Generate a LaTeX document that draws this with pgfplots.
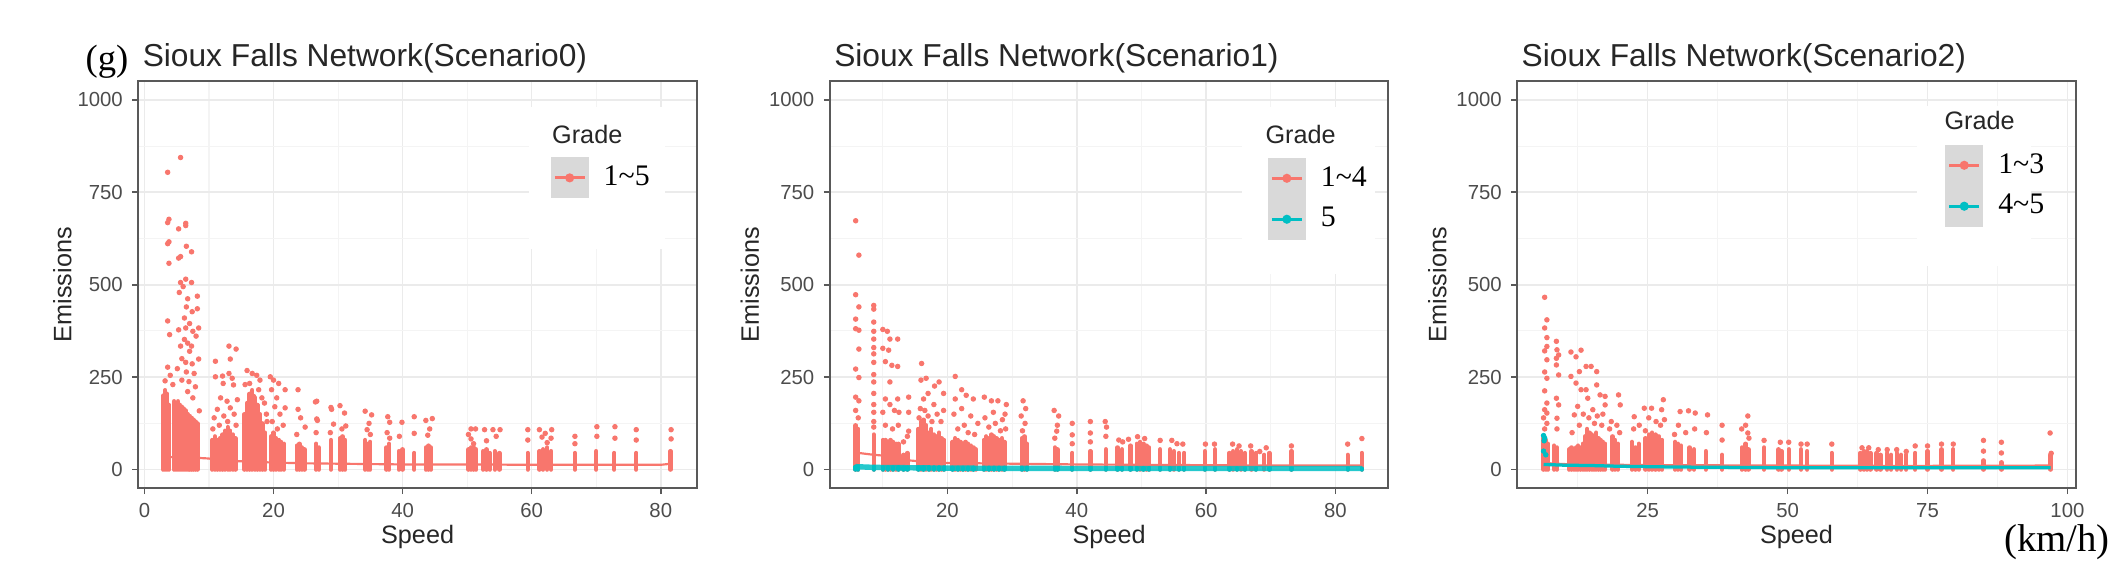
\documentclass[border=0pt]{standalone}
\usepackage{fontspec}
\setmainfont{Liberation Sans}
\newfontfamily\lserif{Liberation Serif}
\usepackage{pgfplots}
\pgfplotsset{compat=1.18}

\definecolor{salmon}{HTML}{F8766D}
\definecolor{ggcyan}{HTML}{00BFC4}
\definecolor{gridmaj}{RGB}{235,235,235}
\definecolor{gridmin}{RGB}{244,244,244}
\definecolor{keygray}{RGB}{217,217,217}

\tikzset{gradefont/.style={font=\fontsize{9.3}{10}\selectfont, text=black!85, inner sep=0pt}}

\pgfplotsset{
  panel/.style={
    scale only axis, width=206pt, height=150pt, anchor=south west,
    ymin=-50, ymax=1050, ytick={0,250,500,750,1000}, minor ytick={125,375,625,875},
    grid=both, major grid style={line width=0.6pt, draw=gridmaj},
    minor grid style={line width=0.4pt, draw=gridmin},
    axis line style={line width=0.8pt, draw=black!65},
    tick pos=left, tick align=outside, major tick length=2.2pt, minor tick length=0pt,
    tick style={line width=0.6pt, draw=black!65},
    ticklabel style={font=\fontsize{7.5}{8}\selectfont, text=black!70},
    /pgf/number format/assume math mode=true, /pgf/number format/1000 sep={},
    xlabel={Speed}, ylabel={Emissions},
    label style={font=\fontsize{9.3}{10}\selectfont, text=black!85},
    xlabel style={at={(axis description cs:0.5,-0.12)}, anchor=center},
    ylabel style={at={(axis description cs:-0.143,0.5)}, anchor=center},
    title style={at={(axis description cs:0.007,1.037)}, anchor=base west, yshift=-6pt,
      inner sep=0pt, font=\fontsize{11.7}{12}\selectfont, text=black!85},
    legend style={anchor=north west, draw=none, fill=none, inner sep=0pt, outer sep=0pt,
      row sep=0pt, font=\lserif\fontsize{11}{11}\selectfont,
      /tikz/every odd column/.append style={column sep=3.5pt}},
    legend cell align=left,
    legend image code/.code={
      \fill[keygray] (-0.5pt,-7pt) rectangle (12.5pt,7pt);
      \draw[mark repeat=2,mark phase=2,##1] plot coordinates {(0.5pt,0pt) (6pt,0pt) (11.5pt,0pt)};
    },
  },
  dots/.style={only marks, mark=*, color=#1, mark size=0.8pt, mark options={draw=none, fill=#1}, forget plot},
  comb/.style={ycomb, draw=#1, line width=1.6pt, line cap=round, no marks, forget plot},
  meanline/.style={draw=#1, line width=0.8pt, no marks, forget plot},
  keyred/.style={draw=salmon, line width=1.1pt, mark=*, mark size=1.1pt, mark options={fill=salmon, draw=none}},
  keycyan/.style={draw=ggcyan, line width=1.1pt, mark=*, mark size=1.1pt, mark options={fill=ggcyan, draw=none}},
}

\begin{document}
\begin{tikzpicture}
\path[use as bounding box] (0,0) rectangle (784pt,216pt);

% ---------- Scenario 0 ----------
\begin{axis}[panel, at={(51pt,36pt)},
  xmin=-0.95, xmax=85.6, xtick={0,20,40,60,80}, minor xtick={10,30,50,70},
  title={Sioux Falls Network(Scenario0)},
  ylabel style={at={(axis description cs:-0.136,0.5)}},
  legend style={at={(axis description cs:0.738,0.813)}}]
\addlegendimage{keyred}\addlegendentry{1\textasciitilde 5}
\fill[white] (axis description cs:0.699,0.587) rectangle (axis description cs:0.942,0.937);
\addplot[comb=salmon] coordinates {
 (2.9,200)(3.2,215)(3.5,205)(3.8,175)(4.6,185)(4.9,180)(5.2,185)(5.5,175)(5.8,170)
 (6.1,165)(6.4,160)(6.7,150)(7.0,145)(7.3,140)(7.6,135)(7.9,130)(8.2,125)
 (10.5,80)(10.9,90)(11.3,80)(11.7,85)(12.1,95)(12.5,105)(12.9,115)(13.3,105)(13.7,95)(14.1,85)
 (15.5,150)(15.9,180)(16.3,205)(16.7,215)(17.1,195)(17.5,175)(17.9,150)(18.3,125)(18.7,100)
 (19.6,90)(20.0,100)(20.4,85)(20.8,80)(21.2,75)(21.6,70)
 (23.6,65)(24.0,70)(24.4,60)(24.8,55)(26.6,70)(27.0,60)
 (28.9,80)(30.3,85)(30.7,90)(31.1,80)(34.2,80)(34.6,70)(35.0,75)
 (37.5,60)(37.9,70)(39.4,50)(40.0,55)(41.8,45)(43.6,60)(44.0,65)(44.4,60)
 (50.2,55)(50.6,60)(51.0,60)(51.4,55)(52.5,50)(53.0,55)(53.5,45)(54.3,50)(55.0,45)
 (59.4,45)(61.2,50)(61.8,55)(62.4,60)(63.0,50)
 (66.7,45)(70.0,50)(72.8,45)(76.2,45)(81.5,50)};
\addplot[dots=salmon] coordinates {
 (3.6,804)(5.6,844)(3.6,668)(3.8,677)(5.3,651)(6.4,660)(6.4,666)(3.6,611)(3.8,616)
 (6.5,604)(7.3,589)(5.3,572)(5.6,576)(3.8,558)
 (5.6,506)(6.4,515)(7.3,506)(5.4,479)(6.7,462)(8.2,469)(6.5,440)(7.4,427)(8.2,435)
 (3.6,402)(3.9,365)(5.3,378)(6.4,383)(7.5,374)(8.4,383)(8.0,361)(5.6,334)(6.7,342)(7.3,334)
 (6.0,495)(6.2,410)(7.0,395)(5.8,300)(7.0,320)(6.2,352)
 (13.1,334)(14.2,326)(13.3,299)(11.0,293)
 (3.6,277)(4.0,255)(5.1,273)(6.4,290)(7.4,286)(8.4,299)(6.5,264)(7.7,260)(5.8,242)
 (6.9,238)(7.9,224)(6.7,211)(7.5,194)(8.5,159)(3.2,240)(4.4,230)
 (11.0,251)(12.1,253)(13.1,260)(13.6,247)(12.2,233)(13.8,229)(11.8,194)(12.8,185)
 (14.4,189)(11.3,163)(13.3,167)(12.3,145)(10.8,140)(13.9,150)(11.6,120)(12.9,130)(14.2,120)(10.6,110)
 (15.9,268)(16.7,260)(17.4,255)(17.9,242)(16.3,233)(17.7,216)(16.9,198)(18.2,194)
 (15.6,230)(18.6,180)(18.9,150)(19.0,130)
 (19.5,251)(20.0,242)(20.8,233)(21.8,216)(19.7,216)(20.5,194)(21.8,167)(20.2,170)
 (21.0,150)(19.8,130)(21.5,120)(20.6,110)
 (23.8,216)(23.8,163)(24.9,115)(24.2,140)(23.6,95)
 (26.7,185)(26.7,137)(29.0,163)(26.5,183)(26.8,133)(26.6,100)
 (28.9,168)(30.3,173)(31.0,153)(31.2,118)(29.3,123)(30.6,110)(28.8,100)
 (34.2,158)(35.2,148)(34.5,108)(34.8,125)(35.0,95)
 (37.7,143)(38.0,128)(39.9,128)(41.8,143)(43.6,133)(44.6,138)(43.9,93)(41.8,98)
 (37.6,100)(39.5,90)(44.2,110)(38.0,85)
 (50.6,110)(51.3,110)(52.7,108)(54.0,108)(55.1,108)(50.6,83)(53.0,78)(50.2,95)(51.0,70)(54.5,90)
 (59.4,108)(61.2,108)(62.1,98)(63.1,108)(62.4,73)(59.4,80)(61.6,88)(63.0,85)
 (66.7,90)(66.7,70)(70.1,116)(70.1,90)(72.9,116)(72.9,85)(76.2,108)(76.2,80)(81.6,108)(81.6,83)};
\addplot[meanline=salmon] coordinates {
 (3,35)(5,33)(8,32)(10,30)(12,24)(16,22)(20,19)(25,17)(30,16)(35,15)(40,14)
 (50,14)(60,13)(70,13)(80,13)(81.6,16)};
\node[gradefont, anchor=west] at (axis description cs:0.740,0.870) {Grade};
\end{axis}
\node[anchor=base east, inner sep=0pt, font=\lserif\fontsize{13.5}{14}\selectfont] at (47.5pt,190pt) {(g)};

% ---------- Scenario 1 ----------
\begin{axis}[panel, at={(306pt,36pt)},
  xmin=1.8, xmax=88.2, xtick={20,40,60,80}, minor xtick={10,30,50,70},
  title={Sioux Falls Network(Scenario1)},
  legend style={at={(axis description cs:0.784,0.812)}}]
\addlegendimage{keyred}\addlegendentry{1\textasciitilde 4}
\addlegendimage{keycyan}\addlegendentry{5}
\fill[white] (axis description cs:0.738,0.527) rectangle (axis description cs:0.976,0.937);
\addplot[comb=salmon] coordinates {
 (5.8,120)(6.2,110)(8.6,95)(10.0,80)(10.4,80)(10.8,75)(11.2,80)(11.6,75)(12.0,70)(12.4,70)(13.2,40)(13.8,45)
 (15.5,110)(15.9,130)(16.3,135)(16.7,120)(17.1,100)(17.5,110)(17.9,95)(18.3,90)(18.7,100)(19.1,85)(19.5,80)
 (20.8,75)(21.2,85)(21.6,80)(22.0,75)(22.4,70)(22.8,75)(23.2,70)(23.6,65)(24.0,60)(24.4,55)
 (25.6,80)(26.0,90)(26.4,85)(26.8,95)(27.2,90)(27.6,85)(28.0,80)(28.4,85)(28.8,75)
 (31.5,85)(31.9,90)(32.3,70)(36.6,60)(37.0,55)(39.3,45)(42.1,50)(44.5,55)(46.3,60)(47.0,55)
 (48.3,65)(49.3,70)(49.8,75)(50.3,70)(50.8,65)(51.2,60)(52.9,55)(54.4,55)(55.0,50)(55.8,45)(56.6,45)
 (59.8,50)(61.4,55)(63.6,45)(64.2,50)(64.8,55)(65.4,50)(66.0,45)(67.0,50)(67.7,45)
 (69.0,40)(69.8,45)(73.2,50)(81.9,40)(84.1,45)};
\addplot[dots=salmon] coordinates {
 (5.8,673)(6.3,580)(5.8,473)(6.3,440)(5.8,407)(6.3,377)(5.8,381)(6.3,326)(5.8,272)
 (6.3,249)(5.8,196)(6.3,186)(5.8,160)(6.2,140)
 (8.6,444)(8.6,434)(8.6,399)(8.6,374)(8.6,353)(8.6,313)(8.6,257)(8.6,237)(8.6,206)
 (8.6,176)(8.6,155)(8.6,130)(8.6,115)(8.6,290)(8.6,330)
 (10.0,379)(10.7,374)(11.1,353)(10.0,328)(10.9,323)(10.4,292)(11.4,282)(12.3,279)(12.3,353)
 (11.1,237)(10.4,191)(11.1,176)(12.3,191)(10.0,155)(11.8,160)(12.5,155)(14.0,196)(14.0,155)
 (14.0,104)(10.4,120)(11.5,110)(12.4,120)(13.2,75)(13.8,90)
 (16.0,287)(15.9,242)(16.7,247)(16.3,191)(17.0,206)(18.0,226)(18.7,237)(19.4,206)(17.9,176)
 (19.4,160)(17.0,145)(15.8,165)(16.5,160)(18.4,150)(19.0,130)(15.6,140)(17.6,130)
 (21.2,252)(22.2,216)(22.9,201)(24.0,191)(21.2,191)(22.2,165)(23.6,145)(24.7,125)(21.0,150)
 (22.6,120)(21.6,110)(23.2,100)(24.2,95)
 (25.7,196)(26.8,186)(27.8,186)(29.1,176)(27.1,155)(28.5,135)(26.4,115)(28.2,105)(25.8,140)
 (27.4,125)(28.9,150)(29.0,110)
 (31.7,186)(32.1,165)(31.4,145)(32.0,125)(31.6,105)
 (36.5,160)(37.2,145)(36.9,104)(39.3,125)(39.3,94)(42.1,130)(42.1,99)(44.4,130)(44.6,115)
 (36.6,85)(37.0,120)(39.3,70)(42.1,75)(44.5,90)
 (49.4,89)(50.5,84)(52.9,79)(54.7,79)(56.4,69)(59.9,69)(61.3,69)(64.1,69)(65.1,64)(66.9,64)
 (68.3,49)(69.3,59)(73.2,64)(81.9,69)(84.1,84)(46.5,80)(48.0,82)(47.1,75)(55.5,70)};
\addplot[meanline=salmon] coordinates {
 (5.8,48)(6.3,45)(8.6,40)(10,38)(12,28)(16,22)(20,18)(25,17)(30,16)(35,15)(40,14)
 (50,13)(60,12)(70,11)(84.1,11)};
\addplot[comb=ggcyan] coordinates {
 (5.8,8)(6.2,8)(8.6,7)(10.0,6)(10.8,6)(11.6,6)(12.4,6)(13.2,5)(13.8,5)(15.5,6)(16.3,6)
 (17.1,6)(17.9,6)(18.7,6)(19.5,6)(20.8,5)(21.6,5)(22.4,5)(23.2,5)(24.0,5)(25.6,5)(26.4,5)
 (27.2,5)(28.0,5)(28.8,5)(31.5,5)(32.3,5)(36.6,4)(37.0,4)(39.3,4)(42.1,4)(44.5,4)(46.3,4)
 (47.0,4)(48.3,4)(49.3,4)(50.3,4)(51.2,4)(52.9,4)(54.4,4)(55.8,4)(56.6,4)(59.8,3)(61.4,3)
 (63.6,3)(64.8,3)(66.0,3)(67.7,3)(69.8,3)(73.2,3)(81.9,3)(84.1,3)};
\addplot[meanline=ggcyan, line width=2pt, opacity=0.85] coordinates {
 (5.8,8)(8.6,6)(20,4)(40,3)(60,3)(84.1,3)};
\node[gradefont, anchor=west] at (axis description cs:0.779,0.870) {Grade};
\end{axis}

% ---------- Scenario 2 ----------
\begin{axis}[panel, at={(559.5pt,36pt)},
  xmin=1.7, xmax=101.5, xtick={25,50,75,100}, minor xtick={12.5,37.5,62.5,87.5},
  title={Sioux Falls Network(Scenario2)},
  legend style={at={(axis description cs:0.766,0.844)}}]
\addlegendimage{keyred}\addlegendentry{1\textasciitilde 3}
\addlegendimage{keycyan}\addlegendentry{4\textasciitilde 5}
\fill[white] (axis description cs:0.716,0.547) rectangle (axis description cs:0.92,0.94);
\addplot[comb=salmon] coordinates {
 (6.4,85)(6.8,80)(7.2,70)(8.3,65)(8.8,60)
 (11.0,55)(11.4,60)(11.8,55)(12.2,60)(12.6,65)(13.0,60)(13.4,70)(13.8,90)(14.2,110)(14.6,100)
 (15.0,95)(15.4,90)(15.8,100)(16.2,85)(16.6,80)(17.0,75)(17.4,70)
 (18.7,90)(19.2,80)(19.7,70)(22.2,75)(22.8,60)(23.4,70)
 (24.6,85)(25.2,95)(25.8,100)(26.4,95)(27.0,90)(27.6,80)
 (29.9,75)(30.4,70)(31.0,65)(32.5,60)(33.3,55)(35.4,50)(38.3,40)(41.8,60)(42.5,70)(43.0,55)(45.8,60)
 (48.4,55)(48.9,50)(50.2,55)(52.4,55)(53.5,50)(57.9,45)
 (63.0,45)(63.6,50)(64.2,50)(64.8,45)(65.9,45)(66.6,40)(67.8,45)(68.5,40)(69.5,45)(70.3,40)(71.2,40)
 (72.8,45)(75.0,50)(77.5,55)(79.6,55)(85.0,25)(88.2,20)(97.0,40)};
\addplot[dots=salmon] coordinates {
 (6.6,466)(7.0,405)(6.6,383)(7.0,357)(6.6,321)(7.0,333)(8.7,347)(8.8,324)(7.0,297)(8.7,301)
 (8.7,283)(9.1,256)(6.6,264)(7.0,247)(9.1,310)
 (6.6,213)(7.0,180)(6.6,162)(7.0,153)(8.7,193)(9.1,175)(8.8,139)(7.0,125)(6.6,110)(8.8,110)(6.4,140)
 (11.3,318)(12.2,305)(13.1,323)(11.3,252)(12.2,234)(12.8,265)(14.0,279)(14.9,279)(15.9,265)
 (13.1,216)(14.0,216)(15.9,229)(12.5,171)(14.3,193)(16.5,202)(17.4,198)(19.8,202)(11.9,148)
 (15.2,162)(17.4,175)(20.1,175)
 (13.5,150)(14.5,140)(16.0,145)(17.0,150)(18.5,130)(19.5,120)(12.8,120)(11.5,100)(15.5,125)
 (16.8,120)(18.2,110)(20.0,100)
 (22.6,143)(24.4,166)(25.7,166)(27.8,189)(27.5,162)(30.8,157)(32.3,159)(33.5,153)(35.7,148)
 (22.5,110)(23.5,120)(25.2,140)(26.5,130)(27.3,120)(28.0,135)(30.5,120)(31.8,100)(33.4,110)
 (35.5,100)(29.8,95)(24.6,105)
 (38.3,120)(42.9,145)(42.9,99)(38.3,80)(41.8,110)(42.5,120)(43.1,85)(45.8,79)(48.7,74)(50.2,74)
 (52.4,69)(53.5,69)(57.9,69)(63.3,59)(64.5,59)(66.2,54)(67.8,54)(69.5,54)(71.2,49)(72.8,64)
 (75.0,64)(77.5,69)(79.6,69)(85.0,79)(88.2,74)(96.9,99)(97.1,44)(85.0,50)(88.2,45)};
\addplot[meanline=salmon] coordinates {
 (6.4,18)(10,15)(20,13)(30,12)(50,11)(70,10)(97,11)};
\addplot[dots=ggcyan] coordinates {
 (6.4,92)(6.6,85)(6.5,78)(6.4,50)(6.8,40)};
\addplot[meanline=ggcyan, line width=1.2pt] coordinates {
 (6.4,14)(10,12)(15,11)(20,9)(30,7)(50,5)(70,5)(97,5)};
\node[gradefont, anchor=west] at (axis description cs:0.764,0.903) {Grade};
\end{axis}

\node[font=\lserif\fontsize{14.3}{15}\selectfont] at (758.5pt,16pt) {(km/h)};
\end{tikzpicture}
\end{document}
